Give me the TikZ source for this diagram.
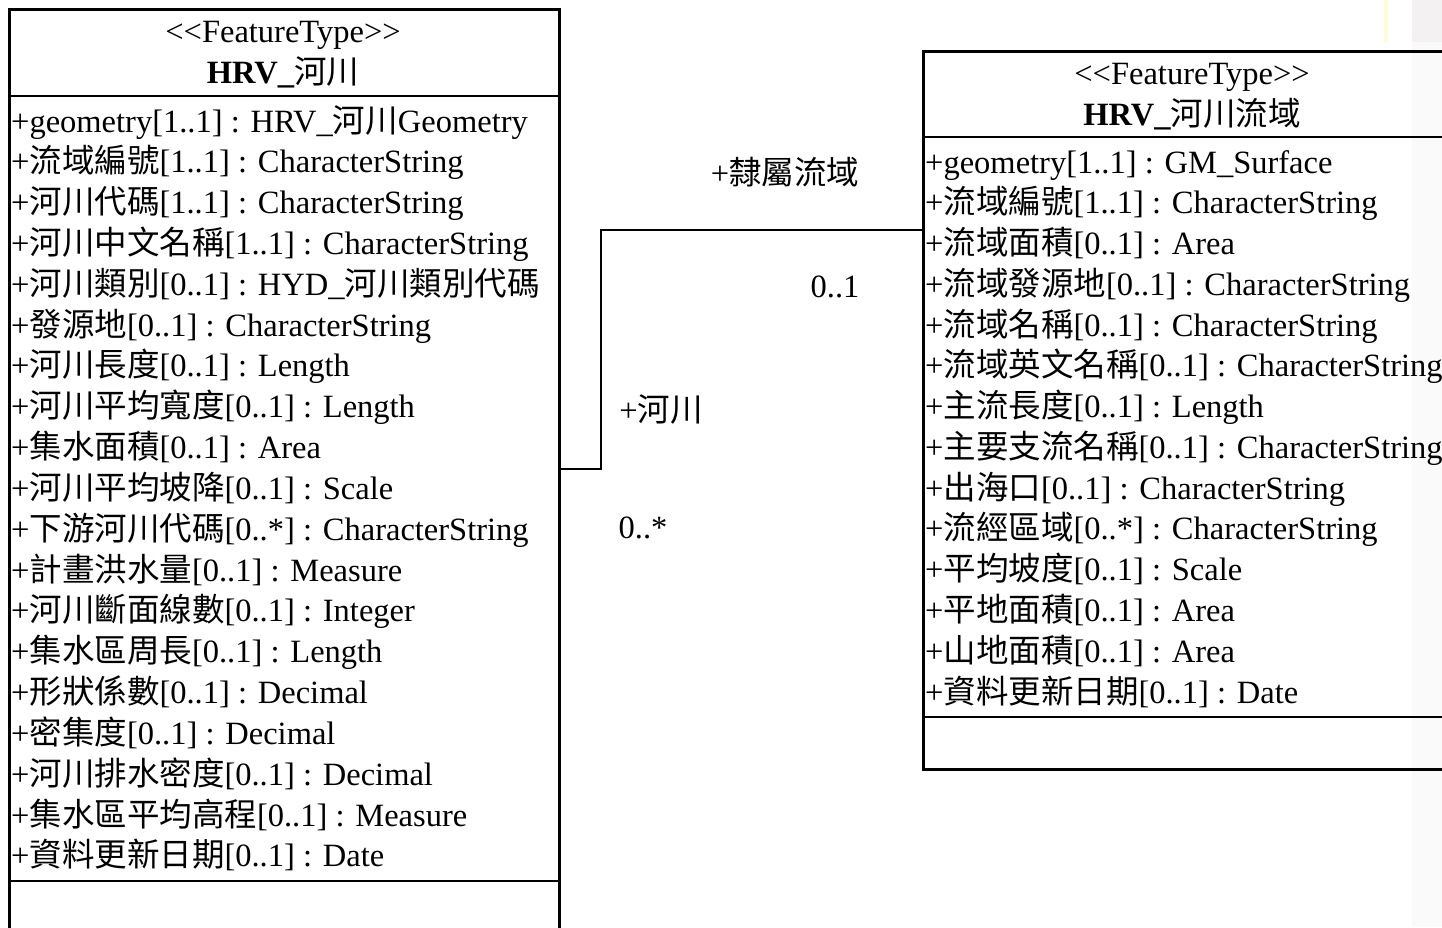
\documentclass[tikz,border=0pt]{standalone}
\usepackage{fontspec}
\setmainfont{Liberation Serif}
\newfontfamily\cjkfont{Noto Sans CJK TC}
\newcommand\zh[1]{{\mdseries\cjkfont #1}}
\begin{document}
\begin{tikzpicture}[x=1pt,y=-1pt,
  boxline/.style={line width=2.6pt},
  conn/.style={line width=2pt},
  attr/.style={anchor=base west,inner sep=0pt,font=\fontsize{32.5}{40}\selectfont},
  ctr/.style={anchor=base,inner sep=0pt,font=\fontsize{32.5}{40}\selectfont},
  ctrb/.style={anchor=base,inner sep=0pt,font=\fontsize{32.5}{40}\selectfont\bfseries},
]
\useasboundingbox (0,0) rectangle (1442,927);
\clip (0,0) rectangle (1442,927);
\fill[white] (0,0) rectangle (1442,927);
% faint background decoration at the right
\fill[gray!4] (1412,0) rectangle (1442,927);
\fill[red!8!gray!10] (1412,0) rectangle (1442,42);
\fill[yellow!15] (1384,0) rectangle (1388,42);

% boxes
\node[draw,boxline,anchor=north west,minimum width=550pt,minimum height=940pt,inner sep=0pt] (river) at (8,8) {};
\node[draw,boxline,anchor=north west,minimum width=560pt,minimum height=718pt,inner sep=0pt] (basin) at (922,50) {};
\draw[boxline] (river.west |- 0,96) -- (river.east |- 0,96);
\draw[boxline] (river.west |- 0,881) -- (river.east |- 0,881);
\draw[boxline] (basin.west |- 0,137) -- (basin.east |- 0,137);
\draw[boxline] (basin.west |- 0,717) -- (basin.east |- 0,717);

% headers
\node[ctr] (rst) at (283,42) {{<}{<}FeatureType{>}{>}};
\node[ctrb] (rname) at (283,83) {HRV\_\zh{河川}};
\node[ctr] (bst) at (1192,84) {{<}{<}FeatureType{>}{>}};
\node[ctrb] (bname) at (1192,125) {HRV\_\zh{河川流域}};

% left attributes
\foreach \t [count=\i] in {
 {+geometry[1..1] : HRV\_\zh{河川}Geometry},
 {+\zh{流域編號}[1..1] : CharacterString},
 {+\zh{河川代碼}[1..1] : CharacterString},
 {+\zh{河川中文名稱}[1..1] : CharacterString},
 {+\zh{河川類別}[0..1] : HYD\_\zh{河川類別代碼}},
 {+\zh{發源地}[0..1] : CharacterString},
 {+\zh{河川長度}[0..1] : Length},
 {+\zh{河川平均寬度}[0..1] : Length},
 {+\zh{集水面積}[0..1] : Area},
 {+\zh{河川平均坡降}[0..1] : Scale},
 {+\zh{下游河川代碼}[0..*] : CharacterString},
 {+\zh{計畫洪水量}[0..1] : Measure},
 {+\zh{河川斷面線數}[0..1] : Integer},
 {+\zh{集水區周長}[0..1] : Length},
 {+\zh{形狀係數}[0..1] : Decimal},
 {+\zh{密集度}[0..1] : Decimal},
 {+\zh{河川排水密度}[0..1] : Decimal},
 {+\zh{集水區平均高程}[0..1] : Measure},
 {+\zh{資料更新日期}[0..1] : Date}}
 \node[attr] (ra\i) at (11,{132+40.83*(\i-1)}) {\t};

% right attributes
\foreach \t [count=\i] in {
 {+geometry[1..1] : GM\_Surface},
 {+\zh{流域編號}[1..1] : CharacterString},
 {+\zh{流域面積}[0..1] : Area},
 {+\zh{流域發源地}[0..1] : CharacterString},
 {+\zh{流域名稱}[0..1] : CharacterString},
 {+\zh{流域英文名稱}[0..1] : CharacterString},
 {+\zh{主流長度}[0..1] : Length},
 {+\zh{主要支流名稱}[0..1] : CharacterString},
 {+\zh{出海口}[0..1] : CharacterString},
 {+\zh{流經區域}[0..*] : CharacterString},
 {+\zh{平均坡度}[0..1] : Scale},
 {+\zh{平地面積}[0..1] : Area},
 {+\zh{山地面積}[0..1] : Area},
 {+\zh{資料更新日期}[0..1] : Date}}
 \node[attr] (ba\i) at (925,{173+40.77*(\i-1)}) {\t};

% association
\coordinate (j1) at (601,469);
\coordinate (j2) at (601,230);
\draw[conn] (river.east |- j1) -- (j1) -- (j2) -- (basin.west |- j2);
\node[ctr] (role1) at (785,184) {+\zh{隸屬流域}};
\node[ctr] (mult1) at (835,297) {0..1};
\node[ctr] (role2) at (661,421) {+\zh{河川}};
\node[ctr] (mult2) at (643,538) {0..*};
\end{tikzpicture}
\end{document}
